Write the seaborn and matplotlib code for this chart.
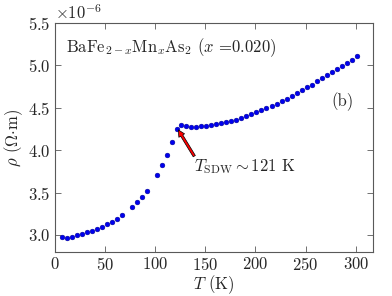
import matplotlib
matplotlib.use("Agg")
import matplotlib.pyplot as plt
import seaborn as sns
import numpy as np
import pandas as pd

# temperature (K) and resistivity (micro-ohm m)
T_low = [7, 12, 17, 22, 27, 32, 37, 42, 47, 52, 57, 62, 67,
         77, 82, 87, 92, 102, 107, 112, 117, 121.5]
rho_low = [2.973, 2.968, 2.976, 2.995, 3.010, 3.030, 3.051, 3.074, 3.098, 3.124, 3.155, 3.190, 3.236,
           3.334, 3.391, 3.448, 3.522, 3.706, 3.822, 3.945, 4.095, 4.246]

T_high = [126, 131, 136, 141, 146, 151, 156, 161, 166, 171, 176, 181, 186, 191, 196, 201, 206, 211,
          216, 221, 226, 231, 236, 241, 246, 251, 256, 261, 266, 271, 276, 281, 286, 291, 296, 301]
rho_high = [4.297, 4.283, 4.276, 4.277, 4.282, 4.289, 4.297, 4.306, 4.317, 4.330, 4.345, 4.362,
            4.380, 4.400, 4.422, 4.445, 4.470, 4.496, 4.523, 4.551, 4.580, 4.610, 4.641, 4.673,
            4.706, 4.740, 4.775, 4.811, 4.847, 4.884, 4.921, 4.958, 4.995, 5.032, 5.069, 5.106]

x_ticks = [0, 50, 100, 150, 200, 250, 300]
y_ticks = [3.0, 3.5, 4.0, 4.5, 5.0, 5.5]

df = pd.DataFrame({
    "T": T_low + T_high,
    "rho": np.array(rho_low + rho_high) * 1e-6,
})

sns.set_style("ticks")
plt.rcParams["font.family"] = ["cmr10", "DejaVu Serif"]
plt.rcParams["mathtext.fontset"] = "cm"
plt.rcParams["axes.formatter.use_mathtext"] = True
plt.rcParams["font.size"] = 12

fig = plt.figure(figsize=(3.92, 2.96), dpi=100)
ax = fig.add_axes([0.140, 0.149, 0.811, 0.773])

sns.scatterplot(data=df, x="T", y="rho", ax=ax, color="#0000ee",
                edgecolor="#000080", linewidth=0.3, s=12, legend=False, zorder=3)

ax.set_xlim(0, 317)
ax.set_ylim(2.8e-6, 5.5e-6)
ax.set_xticks(x_ticks)
ax.set_yticks(np.array(y_ticks) * 1e-6)
ax.ticklabel_format(axis="y", style="sci", scilimits=(0, 0), useMathText=True)
ax.yaxis.get_offset_text().set_fontsize(12)

ax.tick_params(direction="in", top=True, right=True, length=4, width=0.6,
               labelsize=12, color="0.35", pad=3)
for sp in ax.spines.values():
    sp.set_color("0.35")
    sp.set_linewidth(0.8)

ax.set_xlabel("$T$ (K)", fontsize=12, labelpad=0)
ax.set_ylabel(r"$\rho$ $(\Omega{\cdot}\mathrm{m})$", fontsize=12, labelpad=2)

ax.text(11.5, 5.205e-6, r"BaFe$_{2-x}$Mn$_x$As$_2$ ($x$ =0.020)", fontsize=12, va="center")
ax.text(287, 4.57e-6, "(b)", fontsize=12, ha="center", va="center")
ax.text(139, 3.81e-6, r"$T_{\rm SDW}\sim 121$ K", fontsize=12, va="center")

ax.annotate("", xy=(123, 4.24e-6), xytext=(139, 3.93e-6),
            arrowprops=dict(arrowstyle="simple,head_width=0.4,head_length=0.4,tail_width=0.15",
                            fc="red", ec="black", lw=0.5, shrinkA=0, shrinkB=0))

plt.savefig("out.png", dpi=100)
